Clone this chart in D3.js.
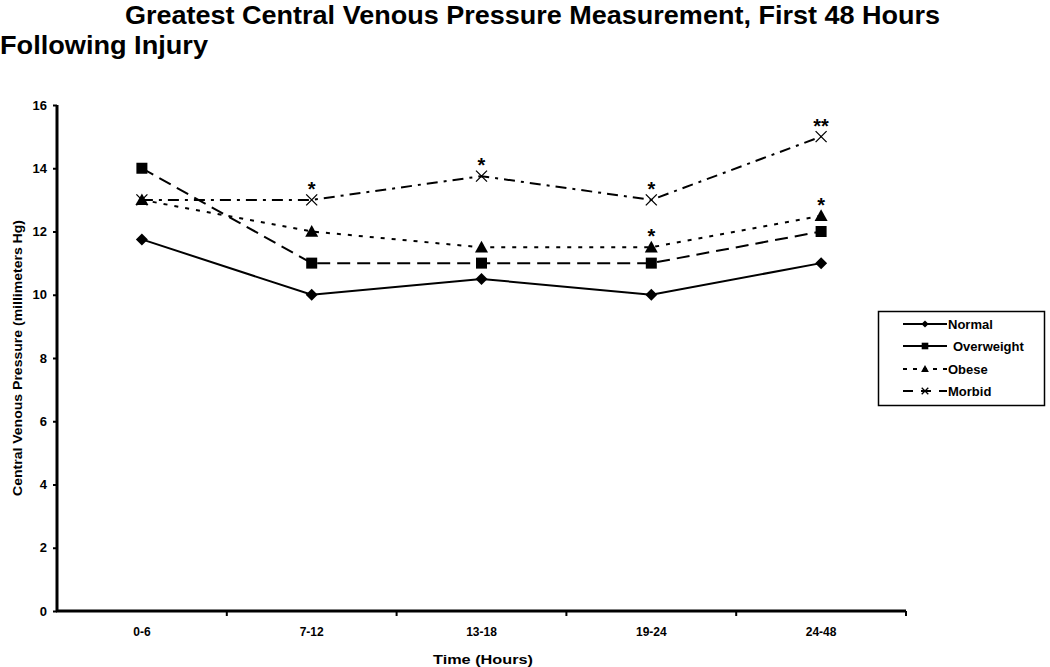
<!DOCTYPE html>
<html><head><meta charset="utf-8">
<script src="https://cdn.jsdelivr.net/npm/d3@7"></script>
<style>body{margin:0;background:#fff}svg{display:block}text{font-family:"Liberation Sans",Arial,sans-serif;font-weight:bold;fill:#000}</style>
</head><body>
<svg id="c" width="1050" height="667"></svg>
<script>
const categories = ["0-6","7-12","13-18","19-24","24-48"];
const seriesNames = ["Normal","Overweight","Obese","Morbid"];
const normal = [11.75,10,10.5,10,11];
const overweight = [14,11,11,11,12];
const obese = [13,12,11.5,11.5,12.5];
const morbid = [13,13,13.75,13,15];
const yTicks = [0,2,4,6,8,10,12,14,16];
// significance marks: [series index, category index, label]
const marks = [[3,1,"*"],[3,2,"*"],[3,3,"*"],[3,4,"**"],[2,3,"*"],[2,4,"*"]];

const values = [normal, overweight, obese, morbid];
const dashes = [null, "13,7", "4,7", "11,6,3,6"];

const svg = d3.select("#c");
const x = d3.scaleBand().domain(categories).range([57,906]);
const y = d3.scaleLinear().domain([0,16]).range([611,105]);

// titles
svg.append("text").attr("x",125).attr("y",24).style("font-size","25px")
  .attr("textLength",815).attr("lengthAdjust","spacingAndGlyphs")
  .text("Greatest Central Venous Pressure Measurement, First 48 Hours");
svg.append("text").attr("x",0).attr("y",54).style("font-size","25px")
  .attr("textLength",208).attr("lengthAdjust","spacingAndGlyphs").text("Following Injury");

// y axis
const ya = svg.append("g").attr("transform","translate(57,0)")
  .call(d3.axisLeft(y).tickValues(yTicks).tickSize(4).tickPadding(6).tickFormat(d3.format("d")));
ya.select(".domain").attr("stroke","#000").attr("stroke-width",3).attr("d","M0,105V612");
ya.selectAll(".tick line").attr("stroke-width",2);
ya.selectAll("text").style("font-size","13px").style("font-family","'Liberation Sans',Arial,sans-serif").style("font-weight","bold");

// x axis
const xa = svg.append("g").attr("transform","translate(0,611)")
  .call(d3.axisBottom(x).tickSize(0).tickPadding(16));
xa.select(".domain").attr("stroke","#000").attr("stroke-width",3).attr("d","M56,0H906");
xa.selectAll("text").style("font-size","12px").style("font-family","'Liberation Sans',Arial,sans-serif").style("font-weight","bold");
const bounds = categories.map(c => x(c) + x.bandwidth());
xa.selectAll(".btick").data(bounds).enter().append("line").attr("class","btick")
  .attr("x1",d=>d).attr("x2",d=>d).attr("y1",0).attr("y2",5).attr("stroke","#000").attr("stroke-width",2);

// axis titles
svg.append("text").attr("transform","translate(22,358) rotate(-90)").attr("text-anchor","middle")
  .style("font-size","12px").attr("textLength",276).attr("lengthAdjust","spacingAndGlyphs")
  .text("Central Venous Pressure (millimeters Hg)");
svg.append("text").attr("x",483).attr("y",664).attr("text-anchor","middle").style("font-size","13px")
  .attr("textLength",100).attr("lengthAdjust","spacingAndGlyphs").text("Time (Hours)");

const cx = c => x(c) + x.bandwidth()/2;
const line = d3.line().x((d,i)=>cx(categories[i])).y(d=>y(d));

function marker(g, s, px, py, k) {
  let p;
  if (s===0) {
    const r = 6*k;
    p = g.append("path").attr("d",`M${px},${py-r}L${px+r},${py}L${px},${py+r}L${px-r},${py}Z`).attr("fill","#000");
  } else if (s===1) {
    const h = 5.5*k;
    p = g.append("rect").attr("x",px-h).attr("y",py-h).attr("width",2*h).attr("height",2*h).attr("fill","#000");
  } else if (s===2) {
    const h = 6.5*k;
    p = g.append("path").attr("d",`M${px},${py-h}L${px+h},${py+h*0.8}L${px-h},${py+h*0.8}Z`).attr("fill","#000");
  } else {
    const h = 5.5*k;
    p = g.append("path").attr("d",`M${px-h},${py-h}L${px+h},${py+h}M${px+h},${py-h}L${px-h},${py+h}`)
      .attr("fill","none").attr("stroke","#000").attr("stroke-width",1.3);
  }
  return p;
}

values.forEach((vals,s) => {
  svg.append("path").datum(vals).attr("d",line).attr("fill","none").attr("stroke","#000")
    .attr("stroke-width",2).attr("stroke-dasharray",dashes[s]);
  vals.forEach((v,i)=> marker(svg, s, cx(categories[i]), y(v), 1));
});

// significance marks
marks.forEach(([s,i,lab]) => {
  svg.append("text").attr("x",cx(categories[i])).attr("y",y(values[s][i]) - 4)
    .attr("text-anchor","middle").style("font-size","20px").text(lab);
});

// legend
const lg = svg.append("g");
lg.append("rect").attr("x",878.5).attr("y",311.5).attr("width",166).attr("height",94)
  .attr("fill","#fff").attr("stroke","#000").attr("stroke-width",1.5);
const legendY = [324,346,369,391];
seriesNames.forEach((n,s)=>{
  const yy = legendY[s];
  lg.append("line").attr("x1",903).attr("x2",947).attr("y1",yy).attr("y2",yy).attr("stroke","#000")
    .attr("stroke-width",2).attr("stroke-dasharray", s===0||s===1 ? null : (s===2 ? "4,6" : "10,8"));
  marker(lg, s, 925, yy, 0.6);
  lg.append("text").attr("x", s===1 ? 953 : 948).attr("y",yy+5).style("font-size","13px").text(n);
});
</script>
</body></html>
